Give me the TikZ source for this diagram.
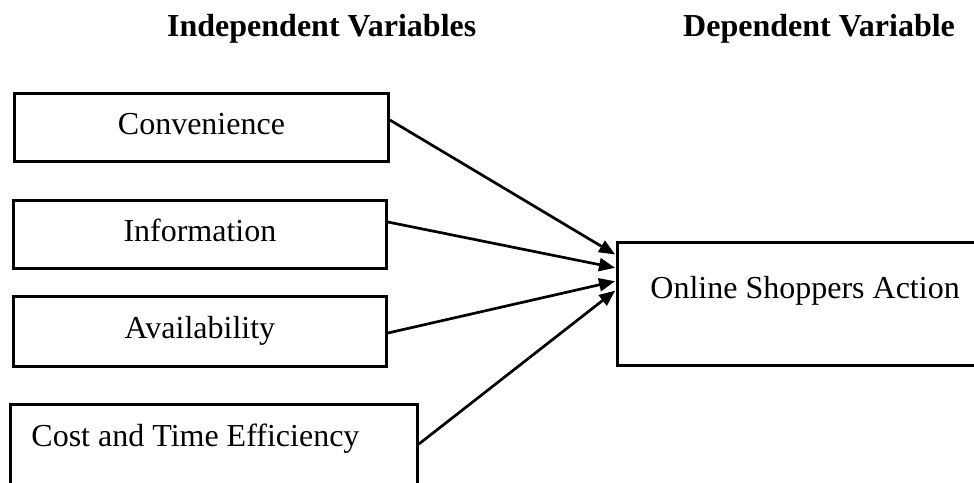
\documentclass[tikz,border=0pt]{standalone}
\usepackage{fontspec}
\setmainfont{Liberation Serif}
\usetikzlibrary{arrows.meta,calc}

\begin{document}
\begin{tikzpicture}[x=1pt,y=-1pt,
  every node/.style={font=\fontsize{32}{38}\selectfont},
  box/.style={draw, line width=2.9pt, rectangle, anchor=north west,
    text height=22.4pt, text depth=8pt, inner ysep=0pt, align=center},
  head/.style={font=\fontsize{32}{38}\selectfont\bfseries, anchor=base west, inner sep=0pt},
  arr/.style={line width=2.7pt, -{Triangle[length=16pt,width=13pt]}, shorten >=1pt}]

\clip (0,0) rectangle (974,482);

% column headings
\node[head] (hin) at (167,36) {Independent Variables};
\node[head] (hdep) at (683,36) {Dependent Variable};

% independent variables
\node[box, minimum width=374pt, minimum height=68pt, text width=340pt] (b1) at (13,92) {Convenience};
\node[box, minimum width=373pt, minimum height=68pt, text width=340pt] (b2) at (12,199) {Information};
\node[box, minimum width=373pt, minimum height=70pt, text width=340pt] (b3) at (12,295) {Availability};
\node[box, minimum width=407pt, inner xsep=21pt, inner ysep=19.6pt, text depth=70pt,
      text width=365pt, align=flush left] (b4) at (9,403) {Cost and Time Efficiency};

% dependent variable
\node[box, inner xsep=33pt, inner ysep=33.6pt, text depth=33.4pt,
      text width=400pt, align=flush left] (tgt) at (616,241) {Online Shoppers Action};

% connector end points
\coordinate (s1) at ($(b1.north east)+(0,28)$);
\coordinate (s2) at ($(b2.north east)+(0,23)$);
\coordinate (s3) at ($(b3.north east)+(0,38)$);
\coordinate (s4) at ($(b4.north east)+(0,41)$);
\coordinate (t1) at ($(tgt.north west)+(0,14)$);
\coordinate (t2) at ($(tgt.north west)+(0,27)$);
\coordinate (t3) at ($(tgt.north west)+(0,40)$);
\coordinate (t4) at ($(tgt.north west)+(0,49)$);

\draw[arr] (s1) -- (t1);
\draw[arr] (s2) -- (t2);
\draw[arr] (s3) -- (t3);
\draw[arr] (s4) -- (t4);
\end{tikzpicture}
\end{document}
